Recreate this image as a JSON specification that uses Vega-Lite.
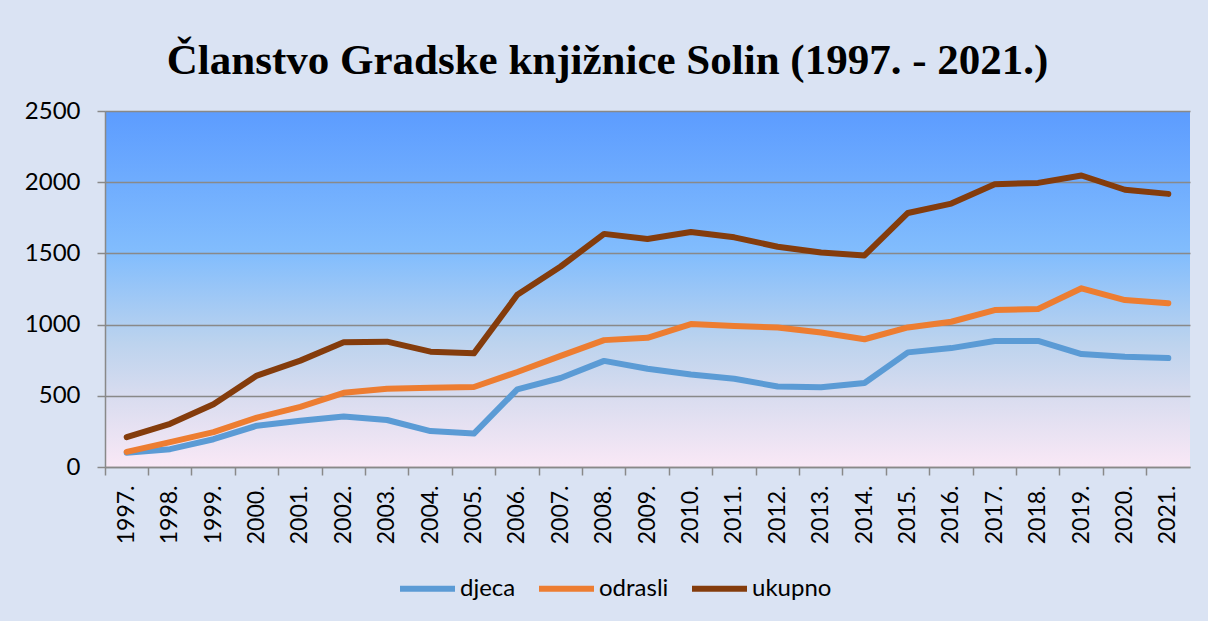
{
  "$schema": "https://vega.github.io/schema/vega-lite/v6.json",
  "width": 1085,
  "height": 356,
  "autosize": {"type": "none"},
  "padding": {"left": 105, "top": 111, "right": 18, "bottom": 154},
  "background": "#dae3f3",
  "title": {
    "text": "Članstvo Gradske knjižnice Solin (1997. - 2021.)",
    "font": "Liberation Serif",
    "fontSize": 43,
    "fontWeight": "bold",
    "color": "#000000",
    "anchor": "middle",
    "dx": -40,
    "offset": 16
  },
  "config": {
    "view": {
      "stroke": null,
      "fill": {
        "gradient": "linear",
        "x1": 0, "y1": 0, "x2": 0, "y2": 1,
        "stops": [
          {"offset": 0, "color": "#5c9cff"},
          {"offset": 0.4, "color": "#82bdfd"},
          {"offset": 0.65, "color": "#bcd3ee"},
          {"offset": 0.8, "color": "#d8dcef"},
          {"offset": 1, "color": "#f9e8f6"}
        ]
      }
    }
  },
  "data": {
    "values": [
      {"godina": "1997.", "kategorija": "djeca", "broj": 100},
      {"godina": "1998.", "kategorija": "djeca", "broj": 125},
      {"godina": "1999.", "kategorija": "djeca", "broj": 195},
      {"godina": "2000.", "kategorija": "djeca", "broj": 290},
      {"godina": "2001.", "kategorija": "djeca", "broj": 325},
      {"godina": "2002.", "kategorija": "djeca", "broj": 355},
      {"godina": "2003.", "kategorija": "djeca", "broj": 330},
      {"godina": "2004.", "kategorija": "djeca", "broj": 252},
      {"godina": "2005.", "kategorija": "djeca", "broj": 235},
      {"godina": "2006.", "kategorija": "djeca", "broj": 545},
      {"godina": "2007.", "kategorija": "djeca", "broj": 625},
      {"godina": "2008.", "kategorija": "djeca", "broj": 745},
      {"godina": "2009.", "kategorija": "djeca", "broj": 690},
      {"godina": "2010.", "kategorija": "djeca", "broj": 650},
      {"godina": "2011.", "kategorija": "djeca", "broj": 620},
      {"godina": "2012.", "kategorija": "djeca", "broj": 565},
      {"godina": "2013.", "kategorija": "djeca", "broj": 560},
      {"godina": "2014.", "kategorija": "djeca", "broj": 590},
      {"godina": "2015.", "kategorija": "djeca", "broj": 805},
      {"godina": "2016.", "kategorija": "djeca", "broj": 835},
      {"godina": "2017.", "kategorija": "djeca", "broj": 885},
      {"godina": "2018.", "kategorija": "djeca", "broj": 885},
      {"godina": "2019.", "kategorija": "djeca", "broj": 793},
      {"godina": "2020.", "kategorija": "djeca", "broj": 775},
      {"godina": "2021.", "kategorija": "djeca", "broj": 765},
      {"godina": "1997.", "kategorija": "odrasli", "broj": 106},
      {"godina": "1998.", "kategorija": "odrasli", "broj": 175},
      {"godina": "1999.", "kategorija": "odrasli", "broj": 245},
      {"godina": "2000.", "kategorija": "odrasli", "broj": 347},
      {"godina": "2001.", "kategorija": "odrasli", "broj": 422},
      {"godina": "2002.", "kategorija": "odrasli", "broj": 521},
      {"godina": "2003.", "kategorija": "odrasli", "broj": 549},
      {"godina": "2004.", "kategorija": "odrasli", "broj": 557},
      {"godina": "2005.", "kategorija": "odrasli", "broj": 562},
      {"godina": "2006.", "kategorija": "odrasli", "broj": 667},
      {"godina": "2007.", "kategorija": "odrasli", "broj": 780},
      {"godina": "2008.", "kategorija": "odrasli", "broj": 891},
      {"godina": "2009.", "kategorija": "odrasli", "broj": 907},
      {"godina": "2010.", "kategorija": "odrasli", "broj": 1004},
      {"godina": "2011.", "kategorija": "odrasli", "broj": 991},
      {"godina": "2012.", "kategorija": "odrasli", "broj": 980},
      {"godina": "2013.", "kategorija": "odrasli", "broj": 944},
      {"godina": "2014.", "kategorija": "odrasli", "broj": 897},
      {"godina": "2015.", "kategorija": "odrasli", "broj": 980},
      {"godina": "2016.", "kategorija": "odrasli", "broj": 1020},
      {"godina": "2017.", "kategorija": "odrasli", "broj": 1102},
      {"godina": "2018.", "kategorija": "odrasli", "broj": 1110},
      {"godina": "2019.", "kategorija": "odrasli", "broj": 1255},
      {"godina": "2020.", "kategorija": "odrasli", "broj": 1172},
      {"godina": "2021.", "kategorija": "odrasli", "broj": 1150},
      {"godina": "1997.", "kategorija": "ukupno", "broj": 210},
      {"godina": "1998.", "kategorija": "ukupno", "broj": 303},
      {"godina": "1999.", "kategorija": "ukupno", "broj": 440},
      {"godina": "2000.", "kategorija": "ukupno", "broj": 642},
      {"godina": "2001.", "kategorija": "ukupno", "broj": 747},
      {"godina": "2002.", "kategorija": "ukupno", "broj": 876},
      {"godina": "2003.", "kategorija": "ukupno", "broj": 880},
      {"godina": "2004.", "kategorija": "ukupno", "broj": 810},
      {"godina": "2005.", "kategorija": "ukupno", "broj": 798},
      {"godina": "2006.", "kategorija": "ukupno", "broj": 1209},
      {"godina": "2007.", "kategorija": "ukupno", "broj": 1408},
      {"godina": "2008.", "kategorija": "ukupno", "broj": 1637},
      {"godina": "2009.", "kategorija": "ukupno", "broj": 1601},
      {"godina": "2010.", "kategorija": "ukupno", "broj": 1650},
      {"godina": "2011.", "kategorija": "ukupno", "broj": 1613},
      {"godina": "2012.", "kategorija": "ukupno", "broj": 1547},
      {"godina": "2013.", "kategorija": "ukupno", "broj": 1506},
      {"godina": "2014.", "kategorija": "ukupno", "broj": 1486},
      {"godina": "2015.", "kategorija": "ukupno", "broj": 1784},
      {"godina": "2016.", "kategorija": "ukupno", "broj": 1850},
      {"godina": "2017.", "kategorija": "ukupno", "broj": 1986},
      {"godina": "2018.", "kategorija": "ukupno", "broj": 1995},
      {"godina": "2019.", "kategorija": "ukupno", "broj": 2047},
      {"godina": "2020.", "kategorija": "ukupno", "broj": 1947},
      {"godina": "2021.", "kategorija": "ukupno", "broj": 1918}
    ]
  },
  "mark": {"type": "line", "strokeWidth": 6, "strokeCap": "round", "strokeJoin": "round"},
  "encoding": {
    "x": {
      "field": "godina",
      "type": "ordinal",
      "scale": {"type": "band", "paddingInner": 0, "paddingOuter": 0},
      "axis": {
        "title": null,
        "bandPosition": 0,
        "labelAngle": 270,
        "labelFont": "Lato",
        "labelFontSize": 23,
        "labelColor": "#000000",
        "labelPadding": 10,
        "tickSize": 8,
        "tickColor": "#898989",
        "tickWidth": 1.5,
        "domainColor": "#898989",
        "domainWidth": 1.5,
        "grid": false
      }
    },
    "y": {
      "field": "broj",
      "type": "quantitative",
      "scale": {"domain": [0, 2500], "nice": false},
      "axis": {
        "title": null,
        "format": "d",
        "values": [0, 500, 1000, 1500, 2000, 2500],
        "labelFont": "Lato",
        "labelFontSize": 24,
        "labelColor": "#000000",
        "labelPadding": 17,
        "tickSize": 8,
        "tickColor": "#898989",
        "tickWidth": 1.5,
        "domainColor": "#898989",
        "domainWidth": 1.5,
        "grid": true,
        "gridColor": "#898989",
        "gridWidth": 1.5,
        "gridOpacity": 1
      }
    },
    "color": {
      "field": "kategorija",
      "type": "nominal",
      "scale": {"domain": ["djeca", "odrasli", "ukupno"], "range": ["#5b9bd5", "#ed7d31", "#843c0c"]},
      "legend": {
        "title": null,
        "orient": "none",
        "direction": "horizontal",
        "legendX": 292,
        "legendY": 447,
        "symbolType": "stroke",
        "symbolSize": 3025,
        "symbolStrokeWidth": 6,
        "labelFont": "Lato",
        "labelFontSize": 24,
        "labelColor": "#000000",
        "labelOffset": 2,
        "columnPadding": 11
      }
    }
  }
}
